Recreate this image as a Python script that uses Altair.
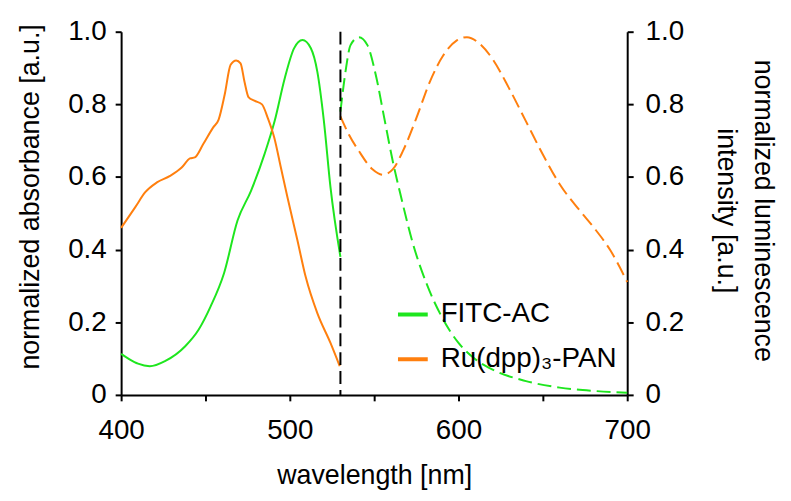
import altair as alt
import pandas as pd

# ---- data ----
dyes = ["FITC-AC", "Ru(dpp)₃-PAN"]
colors = ["#1ee61e", "#ff7f0e"]

abs_wl_fitc = [400, 405, 410, 417, 426, 438, 446, 453, 461, 469, 477, 485, 491, 497, 502.5, 507.5, 512.4, 516.3, 520.2, 524.1, 530]
abs_fitc = [0.113, 0.098, 0.086, 0.079, 0.093, 0.134, 0.18, 0.243, 0.335, 0.48, 0.562, 0.663, 0.754, 0.872, 0.954, 0.977, 0.955, 0.89, 0.754, 0.572, 0.38]

abs_wl_ru = [400, 408.4, 414.3, 421.2, 429, 435.9, 440.8, 443.7, 448.6, 454.5, 457.8, 461.4, 464.9, 468.2, 470.8, 473.1, 475.5, 479, 483.5, 486.9, 490.8, 494.7, 498.6, 504.5, 509.4, 516.3, 524.1, 529.6]
abs_ru = [0.46, 0.517, 0.558, 0.585, 0.603, 0.626, 0.651, 0.654, 0.69, 0.736, 0.758, 0.827, 0.909, 0.921, 0.913, 0.863, 0.82, 0.81, 0.80, 0.763, 0.708, 0.626, 0.544, 0.426, 0.325, 0.225, 0.143, 0.079]

em_wl_fitc = [530, 533, 536, 541, 546, 551, 556, 561, 566, 573, 581, 591, 600, 610, 620, 640, 660, 680, 700]
em_fitc = [0.78, 0.89, 0.963, 0.985, 0.963, 0.88, 0.762, 0.644, 0.544, 0.416, 0.307, 0.207, 0.143, 0.098, 0.07, 0.038, 0.02, 0.011, 0.006]

em_wl_ru = [530, 535, 541, 549, 555, 561, 567, 575, 583, 591, 599, 605, 612.5, 620, 630, 640, 650, 660, 672, 680, 690, 700]
em_ru = [0.767, 0.717, 0.671, 0.621, 0.606, 0.621, 0.671, 0.762, 0.862, 0.935, 0.976, 0.985, 0.967, 0.926, 0.844, 0.753, 0.662, 0.58, 0.507, 0.462, 0.398, 0.311]

x_ticks = [400, 450, 500, 550, 600, 650, 700]
y_ticks = [0, 0.2, 0.4, 0.6, 0.8, 1.0]
excitation_nm = [530]

abs_df = pd.DataFrame({
    "wl": abs_wl_fitc + abs_wl_ru,
    "val": abs_fitc + abs_ru,
    "dye": [dyes[0]] * len(abs_fitc) + [dyes[1]] * len(abs_ru),
})
em_df = pd.DataFrame({
    "wl": em_wl_fitc + em_wl_ru,
    "val": em_fitc + em_ru,
    "dye": [dyes[0]] * len(em_fitc) + [dyes[1]] * len(em_ru),
})
rule_df = pd.DataFrame({"wl": excitation_nm})

FONT = "Liberation Sans"

x_enc = alt.X(
    "wl:Q",
    scale=alt.Scale(domain=[400, 700], nice=False, zero=False),
    axis=alt.Axis(
        values=x_ticks,
        labelExpr="datum.value % 100 == 0 ? datum.label : ''",
        labelFlush=False,
        title="wavelength [nm]",
        titleY=89,
        titleBaseline="alphabetic",
        labelBaseline="alphabetic",
        labelPadding=38,
        tickSize=6,
        grid=False,
    ),
)

color_enc = alt.Color(
    "dye:N",
    scale=alt.Scale(domain=dyes, range=colors),
    legend=alt.Legend(
        title=None,
        orient="none",
        legendX=277,
        legendY=268,
        symbolType="stroke",
        symbolSize=900,
        symbolStrokeWidth=4,
        symbolDash=[1, 0],
        labelFontSize=28,
        labelOffset=11,
        labelLimit=400,
        rowPadding=14,
        padding=0,
    ),
)

y_left = alt.Y(
    "val:Q",
    scale=alt.Scale(domain=[0, 1], nice=False),
    axis=alt.Axis(
        orient="left",
        values=y_ticks,
        labelExpr="datum.value == 0 ? '0' : format(datum.value, '.1f')",
        labelFlush=False,
        title="normalized absorbance [a.u.]",
        titleAngle=270,
        titleX=-91,
        titleY=166,
        titleBaseline="middle",
        titleAlign="center",
        labelPadding=9,
        tickSize=6,
        grid=False,
    ),
)

y_right = alt.Y(
    "val:Q",
    scale=alt.Scale(domain=[0, 1], nice=False),
    axis=alt.Axis(
        orient="right",
        values=y_ticks,
        labelExpr="datum.value == 0 ? '0' : format(datum.value, '.1f')",
        labelFlush=False,
        title=["normalized luminescence", "intensity [a.u.]"],
        titleAngle=90,
        titleX=136,
        titleY=180,
        titleBaseline="middle",
        titleAlign="center",
        titleLineHeight=37,
        labelPadding=12,
        tickSize=6,
        grid=False,
    ),
)

abs_layer = alt.Chart(abs_df).mark_line(strokeWidth=2, interpolate="monotone").encode(
    x=x_enc, y=y_left, color=color_enc
)
em_layer = alt.Chart(em_df).mark_line(strokeWidth=2, strokeDash=[14, 6], interpolate="monotone").encode(
    x=alt.X("wl:Q"), y=y_right, color=alt.Color("dye:N")
)
rule_layer = alt.Chart(rule_df).mark_rule(color="black", strokeWidth=2, strokeDash=[13, 6]).encode(
    x=alt.X("wl:Q")
)

chart = (
    alt.layer(abs_layer, em_layer, rule_layer)
    .resolve_scale(y="independent")
    .properties(
        width=510,
        height=366,
        padding={"left": 114, "top": 22, "right": 157, "bottom": 100},
        autosize=alt.AutoSizeParams(type="none"),
    )
    .configure(font=FONT)
    .configure_axis(
        domainColor="black",
        domainWidth=2,
        tickColor="black",
        tickWidth=2,
        labelFont=FONT,
        labelFontSize=28,
        labelColor="black",
        titleFont=FONT,
        titleFontSize=27,
        titleColor="black",
        titleFontWeight="normal",
    )
    .configure_legend(labelFont=FONT, labelColor="black")
    .configure_view(stroke=None)
)

chart.save("out.html", embed_options={"renderer": "svg", "actions": False})
